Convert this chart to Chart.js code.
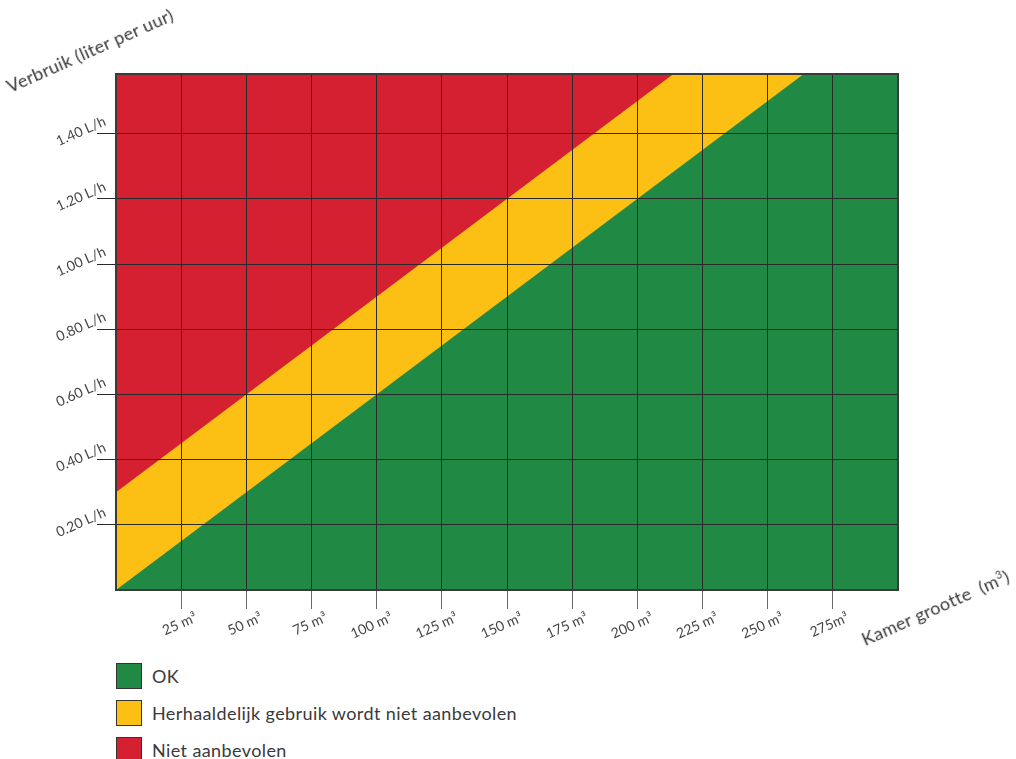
<!DOCTYPE html>
<html>
<head>
<meta charset="utf-8">
<script src="https://cdn.jsdelivr.net/npm/chart.js@4"></script>
<style>
    body { margin: 0; background: #fff; font-family: Lato, "Noto Sans", sans-serif; color: #333; }
    #wrap { position: relative; width: 1016px; height: 759px; overflow: hidden; }
    #chart { position: absolute; left: 0; top: 0; }
    .axis-title { position: absolute; font-size: 18px; line-height: 18px; white-space: nowrap;
        letter-spacing: 0.3px; transform-origin: left bottom; transform: rotate(-24deg); color: #3a3a3a; }
    .axis-title sup { font-size: 11px; }
    #legend { position: absolute; left: 116px; top: 662px; }
    .legend-row { display: flex; align-items: center; height: 27px; margin-bottom: 10px; font-size: 18px;
        letter-spacing: 0.4px; color: #3a3a3a; }
    .legend-box { width: 24px; height: 24px; border: 1.5px solid #333; margin-right: 10px; }
</style>
</head>
<body>
<div id="wrap">
    <canvas id="chart" width="1016" height="650"></canvas>
    <div class="axis-title" style="left:11px; top:77px;">Verbruik (liter per uur)</div>
    <div class="axis-title" style="left:866px; top:626px;">Kamer grootte&nbsp; (m<sup>3</sup>)</div>
    <div id="legend"></div>
</div>
<script>
    /* global Chart */
    'use strict';

    // Axis ranges.
    var xMin = 0, xMax = 300;
    var yMin = 0, yMax = 1.583;

    // Tick values and labels.
    var xTicks = [25, 50, 75, 100, 125, 150, 175, 200, 225, 250, 275];
    var xTickLabels = ['25 m³', '50 m³', '75 m³', '100 m³', '125 m³', '150 m³', '175 m³', '200 m³', '225 m³', '250 m³', '275m³'];
    var yTicks = [0.2, 0.4, 0.6, 0.8, 1.0, 1.2, 1.4];
    var yTickLabels = ['0.20 L/h', '0.40 L/h', '0.60 L/h', '0.80 L/h', '1.00 L/h', '1.20 L/h', '1.40 L/h'];

    // Zone boundaries (room size -> consumption).
    var boundaryX = [0, 300];
    var okUpper = [0, 1.8];        // below this: OK
    var warnUpper = [0.3, 2.1];    // below this: repeated use not recommended
    var redUpper = [1.6, 1.6];     // rest: not recommended

    var zoneLabels = ['OK', 'Herhaaldelijk gebruik wordt niet aanbevolen', 'Niet aanbevolen'];
    var zoneColors = ['#208a45', '#fcbf14', '#d42030'];

    function points(ys) {
        return boundaryX.map(function (x, i) { return { x: x, y: ys[i] }; });
    }

    var zoneData = [okUpper, warnUpper, redUpper];

    // Chart area border.
    var frame = {
        id: 'frame',
        afterDraw: function (chart) {
            var a = chart.chartArea, ctx = chart.ctx;
            ctx.save();
            ctx.strokeStyle = '#3a3a3a';
            ctx.lineWidth = 2;
            ctx.strokeRect(a.left, a.top, a.right - a.left, a.bottom - a.top);
            ctx.restore();
        }
    };

    var tickFont = { family: 'Lato', size: 14 };

    new Chart(document.getElementById('chart'), {
        type: 'line',
        data: {
            datasets: zoneData.map(function (ys, i) {
                return {
                    label: zoneLabels[i],
                    data: points(ys),
                    backgroundColor: zoneColors[i],
                    borderWidth: 0,
                    pointRadius: 0,
                    fill: 'origin'
                };
            })
        },
        options: {
            responsive: false,
            animation: false,
            devicePixelRatio: 1,
            layout: { padding: { top: 74, right: 118, left: 0, bottom: 0 } },
            plugins: { legend: { display: false }, tooltip: { enabled: false } },
            scales: {
                x: {
                    type: 'linear',
                    min: xMin,
                    max: xMax,
                    afterBuildTicks: function (s) {
                        s.ticks = [xMin].concat(xTicks, [xMax]).map(function (v) { return { value: v }; });
                    },
                    afterFit: function (s) { s.height = 60; },
                    grid: {
                        z: 1,
                        color: '#2a2a2a',
                        tickLength: 19,
                        tickColor: function (c) {
                            return (c.tick && c.tick.value > xMin && c.tick.value < xMax) ? '#6a6a6a' : 'rgba(0,0,0,0)';
                        }
                    },
                    border: { display: false },
                    ticks: {
                        autoSkip: false,
                        minRotation: 24,
                        maxRotation: 24,
                        padding: 0,
                        labelOffset: 15,
                        color: '#444',
                        font: tickFont,
                        callback: function (v) {
                            var i = xTicks.indexOf(v);
                            return i < 0 ? '' : xTickLabels[i];
                        }
                    }
                },
                y: {
                    type: 'linear',
                    min: yMin,
                    max: yMax,
                    afterBuildTicks: function (s) {
                        s.ticks = [yMin].concat(yTicks, [yMax]).map(function (v) { return { value: v }; });
                    },
                    afterFit: function (s) { s.width = 116; },
                    grid: {
                        z: 1,
                        color: '#2a2a2a',
                        tickLength: 19,
                        tickColor: function (c) {
                            return (c.tick && c.tick.value > yMin && c.tick.value < yMax) ? '#2a2a2a' : 'rgba(0,0,0,0)';
                        }
                    },
                    border: { display: false },
                    ticks: {
                        minRotation: 24,
                        maxRotation: 24,
                        padding: -8,
                        labelOffset: -13,
                        color: '#444',
                        font: tickFont,
                        callback: function (v) {
                            var i = yTicks.indexOf(v);
                            return i < 0 ? '' : yTickLabels[i];
                        }
                    }
                }
            }
        },
        plugins: [frame]
    });

    // HTML legend built from the zone arrays.
    var legend = document.getElementById('legend');
    zoneLabels.forEach(function (label, i) {
        var row = document.createElement('div');
        row.className = 'legend-row';
        var box = document.createElement('span');
        box.className = 'legend-box';
        box.style.background = zoneColors[i];
        var txt = document.createElement('span');
        txt.textContent = label;
        row.appendChild(box);
        row.appendChild(txt);
        legend.appendChild(row);
    });
</script>
</body>
</html>
